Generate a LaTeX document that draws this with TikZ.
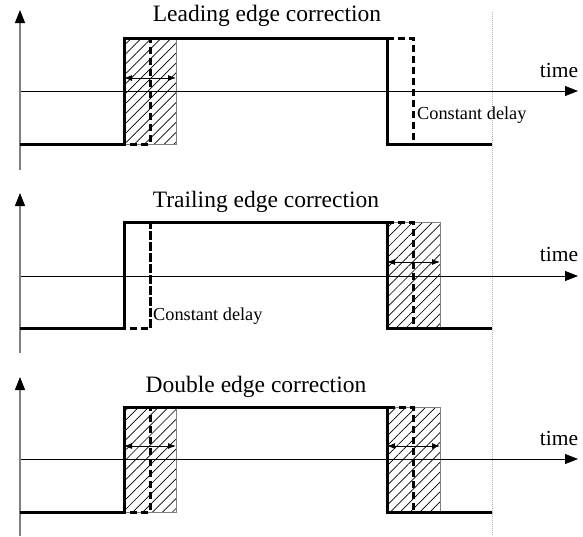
\documentclass[tikz,border=0pt]{standalone}
\usepackage{fontspec}
\setmainfont{Liberation Serif}
\usetikzlibrary{arrows.meta,patterns.meta}
\tikzset{
  sig/.style={line width=3pt, line join=miter},
  delayed/.style={line width=3pt, dash pattern=on 7pt off 4pt},
  taxis/.style={line width=0.8pt, -{Triangle[length=13pt,width=10pt]}},
  vaxis/.style={draw=gray, line width=1.3pt, -{Triangle[length=13pt,width=10pt,color=black]}},
  hatchbox/.style={draw=gray, line width=0.7pt, pattern={Lines[angle=45,distance=7pt,line width=0.7pt]}, pattern color=black},
  span/.style={line width=0.9pt, {Latex[length=8pt,width=6pt]}-{Latex[length=8pt,width=6pt]}},
  guide/.style={draw=gray!60, line width=0.8pt, dash pattern=on 1pt off 1pt},
  title/.style={font=\fontsize{23.5}{26}\selectfont, inner sep=0pt, anchor=base},
  tlabel/.style={font=\fontsize{21.5}{24}\selectfont, inner sep=0pt, anchor=base},
  dlabel/.style={font=\fontsize{18.3}{21}\selectfont, inner sep=0pt, anchor=base west},
}
\begin{document}
\begin{tikzpicture}[x=1pt,y=-1pt]
\useasboundingbox (0,0) rectangle (583,536);
% dotted guide
\coordinate (gtop) at (492,12);
\coordinate (gbot) at (492,536);
\draw[guide] (gtop) -- (gbot);

% ================= Panel 1: Leading edge correction
\draw[hatchbox] (124,38) rectangle (176,144);
\coordinate (a1s) at (20,91);   \coordinate (a1e) at (578,91);
\coordinate (v1s) at (20,170);  \coordinate (v1e) at (20,10);
\draw[taxis] (a1s) -- (a1e);
\draw[vaxis] (v1s) -- (v1e);
\draw[sig] (20,144) -- (124,144) -- (124,38) -- (387,38) -- (387,144) -- (492,144);
\draw[delayed] (20,144) -- (150,144) -- (150,38) -- (413,38) -- (413,144) -- (492,144);
\coordinate (h1l) at (124,78); \coordinate (h1r) at (176,78);
\draw[span] (h1l) -- (h1r);
\node[title] (t1) at (267,21) {Leading edge correction};
\node[tlabel] (time1) at (559,77) {time};
\node[dlabel] (cd1) at (417,119) {Constant delay};

% ================= Panel 2: Trailing edge correction
\draw[hatchbox] (387,222) rectangle (440,328);
\coordinate (a2s) at (20,276);  \coordinate (a2e) at (578,276);
\coordinate (v2s) at (20,353);  \coordinate (v2e) at (20,193);
\draw[taxis] (a2s) -- (a2e);
\draw[vaxis] (v2s) -- (v2e);
\draw[delayed] (20,328) -- (150,328) -- (150,222) -- (413,222) -- (413,328) -- (492,328);
\draw[sig] (20,328) -- (124,328) -- (124,222) -- (387,222) -- (387,328) -- (492,328);
\draw[delayed] (150,328) -- (150,222);
\draw[delayed] (387,222) -- (413,222) -- (413,328);
\coordinate (h2l) at (387,262); \coordinate (h2r) at (440,262);
\draw[span] (h2l) -- (h2r);
\node[title] (t2) at (266,207) {Trailing edge correction};
\node[tlabel] (time2) at (559,261) {time};
\node[dlabel] (cd2) at (153,320) {Constant delay};

% ================= Panel 3: Double edge correction
\draw[hatchbox] (124,407) rectangle (176,512);
\draw[hatchbox] (387,407) rectangle (440,512);
\coordinate (a3s) at (20,459);  \coordinate (a3e) at (578,459);
\coordinate (v3s) at (20,536);  \coordinate (v3e) at (20,377);
\draw[taxis] (a3s) -- (a3e);
\draw[vaxis] (v3s) -- (v3e);
\draw[sig] (20,512) -- (124,512) -- (124,407) -- (387,407) -- (387,512) -- (492,512);
\draw[delayed] (20,512) -- (150,512) -- (150,407) -- (413,407) -- (413,512) -- (492,512);
\coordinate (h3l) at (124,446); \coordinate (h3r) at (176,446);
\coordinate (h4l) at (387,446); \coordinate (h4r) at (440,446);
\draw[span] (h3l) -- (h3r);
\draw[span] (h4l) -- (h4r);
\node[title] (t3) at (256,392) {Double edge correction};
\node[tlabel] (time3) at (559,445) {time};
\end{tikzpicture}
\end{document}
